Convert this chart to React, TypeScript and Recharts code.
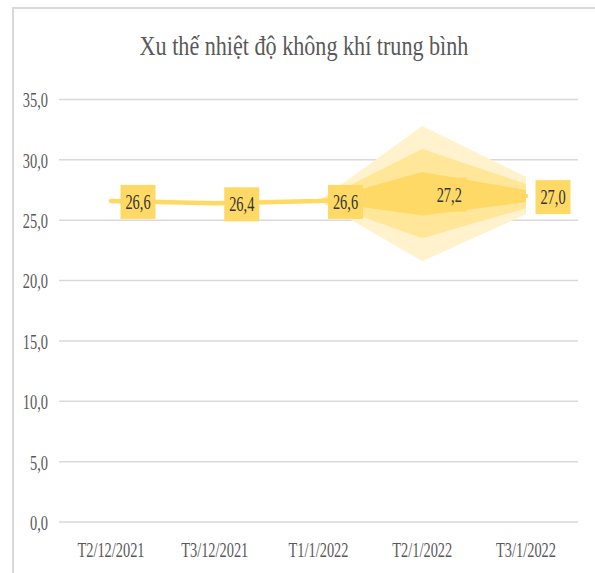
import React from "react";
import {
  Area,
  CartesianGrid,
  ComposedChart,
  LabelList,
  Line,
  XAxis,
  YAxis,
} from "recharts";

// Dữ liệu
const categories = ["T2/12/2021", "T3/12/2021", "T1/1/2022", "T2/1/2022", "T3/1/2022"];
const avgTemp = [26.6, 26.4, 26.6, 27.2, 27.0];

// Dải dự báo (vùng hình nón) – thấp / cao
const outerLow = [null, null, 26.6, 21.6, 25.5];
const outerHigh = [null, null, 26.6, 32.8, 28.6];
const middleLow = [null, null, 26.6, 23.5, 26.0];
const middleHigh = [null, null, 26.6, 30.9, 28.0];
const innerLow = [null, null, 26.6, 25.4, 26.5];
const innerHigh = [null, null, 26.6, 29.0, 27.5];

const yTicks = [0, 5, 10, 15, 20, 25, 30, 35];

const W = 595;
const H = 573;
const GOLD = "#FFD966";
const GOLD_MID = "#FFE699";
const GOLD_LIGHT = "#FFF2CC";
const GRID = "#d9d9d9";
const AXIS_TEXT = "#595959";
const FONT = '"Liberation Serif", "Times New Roman", serif';
const SQUEEZE = 0.72;
const TEXT_SIZE = 20;

const range = (lo: (number | null)[], hi: (number | null)[], i: number) =>
  lo[i] == null || hi[i] == null ? null : [lo[i] as number, hi[i] as number];

const data = categories.map((c, i) => ({
  name: c,
  temp: avgTemp[i],
  outer: range(outerLow, outerHigh, i),
  middle: range(middleLow, middleHigh, i),
  inner: range(innerLow, innerHigh, i),
}));

const fmt = (v: number) => v.toFixed(1).replace(".", ",");

function YTick(props: any) {
  const { y, payload } = props;
  return (
    <text
      transform={`translate(48, ${y + 1}) scale(${SQUEEZE}, 1)`}
      x={0}
      y={0}
      textAnchor="end"
      dominantBaseline="central"
      fontFamily={FONT}
      fontSize={TEXT_SIZE}
      fill={AXIS_TEXT}
    >
      {fmt(payload.value)}
    </text>
  );
}

function XTick(props: any) {
  const { x, payload } = props;
  return (
    <text
      transform={`translate(${x}, 550) scale(${SQUEEZE}, 1)`}
      x={0}
      y={0}
      textAnchor="middle"
      dominantBaseline="central"
      fontFamily={FONT}
      fontSize={TEXT_SIZE}
      fill={AXIS_TEXT}
    >
      {payload.value}
    </text>
  );
}

function PointLabel(props: any) {
  const { x, y, value } = props;
  if (typeof x !== "number" || typeof y !== "number") return null;
  const cx = x + 27;
  const cy = y + 1;
  return (
    <g>
      <rect x={cx - 17.5} y={cy - 17} width={35} height={34} fill={GOLD} />
      <text
        transform={`translate(${cx}, ${cy}) scale(${SQUEEZE}, 1)`}
        x={0}
        y={0}
        textAnchor="middle"
        dominantBaseline="central"
        fontFamily={FONT}
        fontSize={TEXT_SIZE}
        fill="#333333"
      >
        {fmt(value)}
      </text>
    </g>
  );
}

export default function App() {
  return (
    <div
      style={{
        position: "fixed",
        left: 0,
        top: 0,
        width: W,
        height: H,
        overflow: "hidden",
        background: "#fff",
      }}
    >
      <div
        style={{
          position: "absolute",
          left: 12,
          top: 7,
          width: 640,
          height: 640,
          border: `2px solid ${GRID}`,
          boxSizing: "border-box",
        }}
      />
      <svg
        width={W}
        height={H}
        style={{ position: "absolute", left: 0, top: 0, pointerEvents: "none" }}
      >
        <text
          transform="translate(304, 55) scale(0.82, 1)"
          x={0}
          y={0}
          textAnchor="middle"
          fontFamily={FONT}
          fontSize={27}
          fill={AXIS_TEXT}
        >
          Xu thế nhiệt độ không khí trung bình
        </text>
      </svg>
      <div style={{ position: "absolute", left: 0, top: 0 }}>
        <ComposedChart
          width={W}
          height={H}
          data={data}
          margin={{ top: 99.5, right: 17, bottom: 21, left: 0 }}
        >
          <CartesianGrid vertical={false} stroke={GRID} strokeWidth={1.5} />
          <XAxis
            dataKey="name"
            height={30}
            axisLine={false}
            tickLine={false}
            tick={<XTick />}
            interval={0}
            padding={{ left: 52, right: 52 }}
          />
          <YAxis
            width={59}
            domain={[0, 35]}
            ticks={yTicks}
            axisLine={false}
            tickLine={false}
            tick={<YTick />}
            interval={0}
          />
          <Area
            dataKey="outer"
            type="linear"
            stroke="none"
            fill={GOLD_LIGHT}
            fillOpacity={1}
            isAnimationActive={false}
            activeDot={false}
          />
          <Area
            dataKey="middle"
            type="linear"
            stroke="none"
            fill={GOLD_MID}
            fillOpacity={1}
            isAnimationActive={false}
            activeDot={false}
          />
          <Area
            dataKey="inner"
            type="linear"
            stroke="none"
            fill={GOLD}
            fillOpacity={1}
            isAnimationActive={false}
            activeDot={false}
          />
          <Line
            dataKey="temp"
            type="linear"
            stroke={GOLD}
            strokeWidth={4.5}
            strokeLinecap="round"
            dot={false}
            activeDot={false}
            isAnimationActive={false}
          >
            <LabelList dataKey="temp" content={<PointLabel />} />
          </Line>
        </ComposedChart>
      </div>
    </div>
  );
}
